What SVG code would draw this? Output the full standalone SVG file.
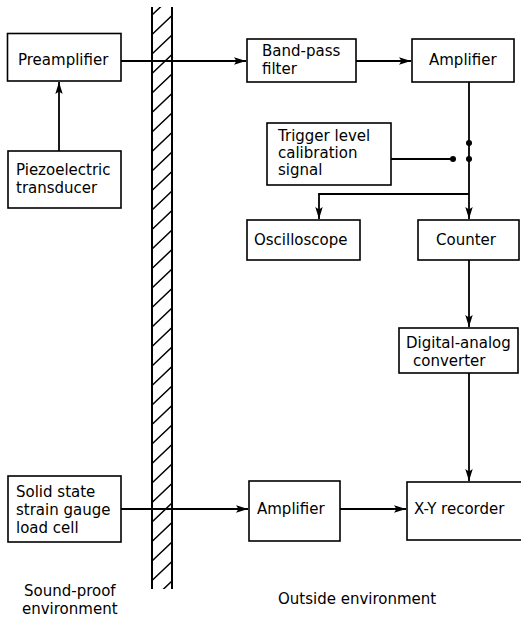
<svg xmlns="http://www.w3.org/2000/svg" width="521" height="619" viewBox="0 0 521 619">
<style>
.box{fill:#fff;stroke:#000;stroke-width:1.6}
.t{font-family:"DejaVu Sans","Liberation Sans",sans-serif;font-size:15px;fill:#000}
.c{fill:none;stroke:#000;stroke-width:1.8}
.w{stroke:#000;stroke-width:2}
.h{stroke:#000;stroke-width:1.5}
</style>
<defs>
<marker id="ah" markerUnits="userSpaceOnUse" markerWidth="13" markerHeight="9" refX="12" refY="4.5" orient="auto">
<path d="M0,0.8 L12,4.5 L0,8.2 L2.5,4.5 z" fill="#000"/>
</marker>
<clipPath id="wc"><rect x="152" y="7" width="20" height="582"/></clipPath>
</defs>
<rect width="521" height="619" fill="#fff"/>
<g id="wall">
<g clip-path="url(#wc)">
<path class="h" d="M152,15L172,-4M152,34.5L172,15.5M152,54L172,35M152,73.5L172,54.5M152,93L172,74M152,112.5L172,93.5M152,132L172,113M152,151.5L172,132.5M152,171L172,152M152,190.5L172,171.5M152,210L172,191M152,229.5L172,210.5M152,249L172,230M152,268.5L172,249.5M152,288L172,269M152,307.5L172,288.5M152,327L172,308M152,346.5L172,327.5M152,366L172,347M152,385.5L172,366.5M152,405L172,386M152,424.5L172,405.5M152,444L172,425M152,463.5L172,444.5M152,483L172,464M152,502.5L172,483.5M152,522L172,503M152,541.5L172,522.5M152,561L172,542M152,580.5L172,561.5M152,600L172,581"/>
</g>
<line class="w" x1="152" y1="7" x2="152" y2="589"/>
<line class="w" x1="172" y1="7" x2="172" y2="589"/>
</g>
<g id="connectors">
<path class="c" d="M59,151V82" marker-end="url(#ah)"/>
<path class="c" d="M121,61H246" marker-end="url(#ah)"/>
<path class="c" d="M356,61H411" marker-end="url(#ah)"/>
<path class="c" d="M469,82V219" marker-end="url(#ah)"/>
<path class="c" d="M469,194H319V219" marker-end="url(#ah)"/>
<path class="c" d="M391,159H453"/>
<path class="c" d="M469,260V327" marker-end="url(#ah)"/>
<path class="c" d="M469,373V481" marker-end="url(#ah)"/>
<path class="c" d="M121,509H248" marker-end="url(#ah)"/>
<path class="c" d="M340,509H406" marker-end="url(#ah)"/>
<circle cx="453" cy="159" r="3"/>
<circle cx="469" cy="143" r="3"/>
<circle cx="469" cy="159" r="3"/>
</g>
<g id="preamp"><rect class="box" x="7.5" y="33.5" width="113.5" height="47.5"/><text class="t" x="18" y="65">Preamplifier</text></g>
<g id="piezo"><rect class="box" x="8" y="151" width="113" height="57"/><text class="t" x="16" y="175">Piezoelectric</text><text class="t" x="16" y="193">transducer</text></g>
<g id="bandpass"><rect class="box" x="247" y="39" width="109" height="43"/><text class="t" x="262" y="56">Band-pass</text><text class="t" x="262" y="74">filter</text></g>
<g id="amp1"><rect class="box" x="412" y="39" width="102" height="43"/><text class="t" x="429" y="65">Amplifier</text></g>
<g id="trigger"><rect class="box" x="267" y="123" width="124" height="62"/><text class="t" x="278" y="141">Trigger level</text><text class="t" x="278" y="158">calibration</text><text class="t" x="278" y="175">signal</text></g>
<g id="scope"><rect class="box" x="247" y="220" width="113" height="40"/><text class="t" x="254" y="245">Oscilloscope</text></g>
<g id="counter"><rect class="box" x="418" y="220" width="101" height="40"/><text class="t" x="436" y="245">Counter</text></g>
<g id="dac"><rect class="box" x="399" y="328" width="119" height="45"/><text class="t" x="406" y="348">Digital-analog</text><text class="t" x="413" y="366">converter</text></g>
<g id="loadcell"><rect class="box" x="8" y="476" width="113" height="66"/><text class="t" x="16" y="497">Solid state</text><text class="t" x="16" y="515">strain gauge</text><text class="t" x="16" y="533">load cell</text></g>
<g id="amp2"><rect class="box" x="249" y="481" width="91" height="60"/><text class="t" x="257" y="514">Amplifier</text></g>
<g id="xy"><rect class="box" x="407" y="482" width="116" height="58"/><text class="t" x="414" y="514">X-Y recorder</text></g>
<g id="labels">
<text class="t" x="24" y="596">Sound-proof</text>
<text class="t" x="22" y="614">environment</text>
<text class="t" x="278" y="604">Outside environment</text>
</g>
</svg>
